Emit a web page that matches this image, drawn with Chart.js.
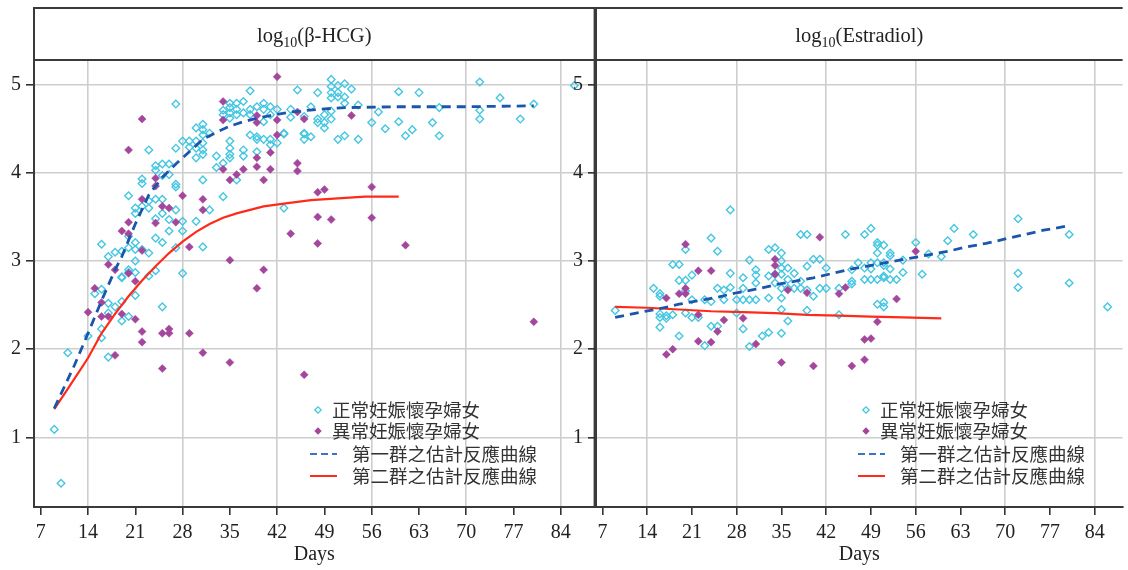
<!DOCTYPE html>
<html>
<head>
<meta charset="utf-8">
<script src="https://cdn.jsdelivr.net/npm/chart.js@4.4.0/dist/chart.umd.min.js"></script>
<style>
  body { margin: 0; background: #fff; }
  #wrap { position: relative; width: 1128px; height: 570px; }
  canvas { position: absolute; top: 0; }
  #hcgChart { left: 0; }
  #e2Chart { left: 560px; }
</style>
</head>
<body>
<div id="wrap">
  <canvas id="hcgChart" width="600" height="570"></canvas>
  <canvas id="e2Chart" width="568" height="570"></canvas>
</div>
<script>
// tick values
const xTicks = [7, 14, 21, 28, 35, 42, 49, 56, 63, 70, 77, 84];
const yTicks = [1, 2, 3, 4, 5];
const legendLabels = ["正常妊娠懷孕婦女", "異常妊娠懷孕婦女", "第一群之估計反應曲線", "第二群之估計反應曲線"];

// [day, value] pairs
const hcgNormal = [
  [9,1.09],[10,0.48],[11,1.96],[14,2.15],[15,2.63],[16,2.68],[16,2.23],[16,2.13],[16,3.19],[17,2.52],[17,2.41],[17,1.91],[17,3.05],
  [18,2.48],[18,3.10],[19,2.82],[19,2.54],[19,2.32],[19,3.11],[19,2.81],[20,2.90],[20,2.37],[20,3.15],[20,3.28],[20,3.74],[20,2.87],
  [21,2.61],[21,3.13],[21,3.00],[21,3.21],[21,3.60],[21,3.54],[21,2.87],[22,3.62],[22,3.13],[22,3.93],[22,3.88],[23,2.83],[23,3.68],
  [23,3.60],[23,3.09],[23,4.26],[24,2.89],[24,3.70],[24,3.48],[24,3.26],[24,4.08],[24,4.03],[25,2.48],[25,3.70],[25,3.54],[25,3.21],
  [25,4.10],[25,3.97],[26,3.47],[26,3.34],[26,4.10],[26,3.98],[27,3.58],[27,3.15],[27,3.87],[27,3.84],[27,4.28],[27,4.78],[28,3.45],
  [28,3.34],[28,2.86],[28,4.36],[29,4.36],[29,4.29],[30,3.45],[30,4.17],[30,4.28],[30,4.36],[30,4.51],[31,3.16],[31,4.55],[31,4.49],
  [31,4.43],[31,4.34],[31,4.26],[31,4.21],[31,3.92],[32,4.45],[32,3.58],[33,4.19],[33,4.06],[34,4.11],[34,3.73],[34,4.71],[34,4.66],
  [35,4.36],[35,4.28],[35,4.21],[35,4.17],[35,4.79],[35,4.74],[35,4.68],[35,4.62],[36,3.92],[36,4.79],[36,4.72],[36,4.66],[37,4.26],
  [37,4.19],[37,4.81],[37,4.68],[38,4.43],[38,4.72],[38,4.66],[38,4.93],[39,4.41],[39,4.38],[39,4.24],[39,4.75],[40,4.38],[40,4.79],
  [40,4.72],[40,4.58],[41,4.38],[41,4.32],[41,4.75],[41,4.66],[42,4.34],[42,4.72],[43,4.44],[43,3.60],[43,4.45],[44,4.72],[44,4.63],
  [45,4.94],[46,4.44],[46,4.38],[46,4.64],[46,4.45],[47,4.75],[47,4.41],[48,4.91],[48,4.61],[48,4.57],[49,4.66],[49,4.57],[49,4.51],
  [50,5.06],[50,4.98],[50,4.91],[50,4.85],[50,4.70],[50,4.61],[51,4.99],[51,4.91],[51,4.86],[51,4.38],[52,5.01],[52,4.86],[52,4.79],
  [52,4.42],[53,4.95],[54,4.77],[54,4.38],[56,4.57],[57,4.69],[58,4.50],[60,4.92],[60,4.58],[61,4.42],[62,4.49],[63,4.91],[65,4.57],
  [66,4.74],[66,4.42],[72,5.03],[72,4.71],[72,4.61],[75,4.85],[78,4.61],[80,4.78],[86,4.99]
];
const hcgAbnormal = [
  [14,2.42],[15,2.69],[16,2.53],[16,2.37],[17,2.37],[17,2.96],[18,1.93],[18,2.90],[19,2.40],[19,3.34],[20,2.86],[20,4.26],[20,3.44],
  [20,3.31],[21,2.77],[21,2.34],[22,2.20],[22,2.08],[22,4.61],[22,3.70],[22,3.12],[24,3.94],[24,3.85],[24,3.43],[25,1.78],[25,2.18],
  [25,3.62],[26,2.23],[26,2.18],[26,3.60],[27,3.44],[28,3.74],[29,2.18],[29,3.16],[31,1.96],[31,3.70],[31,3.58],[34,4.81],[34,4.60],
  [34,4.04],[35,3.92],[35,3.01],[35,1.85],[36,3.98],[37,4.04],[39,4.65],[39,4.57],[39,4.17],[39,4.07],[39,2.69],[40,3.92],[40,2.90],
  [41,4.23],[41,4.04],[42,5.09],[42,4.60],[42,4.43],[44,3.31],[45,4.11],[45,4.02],[45,4.69],[46,4.61],[46,1.71],[48,3.78],[48,3.50],
  [48,3.20],[49,3.81],[50,3.47],[53,4.65],[56,3.84],[56,3.49],[61,3.18],[80,2.31]
];
const hcgFit1 = [
  [9,1.33],[12,1.82],[14,2.18],[16,2.55],[18,2.90],[19,3.05],[21,3.42],[23,3.75],[25,3.95],[27,4.10],[28,4.17],[31,4.38],[33,4.46],
  [35,4.53],[37,4.58],[39,4.62],[41,4.65],[44,4.69],[48,4.72],[52,4.74],[60,4.75],[70,4.75],[80,4.76]
];
const hcgFit2 = [
  [9,1.32],[11,1.55],[14,1.90],[16,2.18],[18,2.40],[20,2.60],[22,2.78],[24,2.94],[26,3.09],[28,3.22],[30,3.33],[32,3.42],[34,3.49],
  [36,3.54],[38,3.58],[40,3.62],[43,3.65],[47,3.69],[51,3.71],[55,3.73],[60,3.73]
];

const e2Normal = [
  [9,2.44],[15,2.69],[16,2.63],[16,2.60],[16,2.40],[16,2.36],[16,2.25],[17,2.38],[17,2.35],[18,2.39],[18,2.96],[19,2.96],[19,2.78],
  [19,2.15],[20,3.13],[20,2.78],[20,2.66],[20,2.41],[21,2.84],[21,2.36],[21,2.56],[22,2.36],[23,2.56],[23,2.04],[24,3.26],[24,2.54],
  [24,2.26],[25,3.11],[25,2.69],[25,2.26],[26,2.67],[26,2.56],[27,2.86],[27,2.70],[27,3.58],[28,2.56],[28,2.41],[29,2.81],[29,2.69],
  [29,2.56],[29,2.23],[30,3.01],[30,2.56],[30,2.03],[31,2.90],[31,2.84],[31,2.75],[31,2.56],[32,2.15],[33,3.13],[33,2.83],[33,2.58],
  [33,2.19],[34,3.15],[34,2.85],[34,2.75],[35,3.09],[35,3.00],[35,2.92],[35,2.85],[35,2.69],[35,2.58],[35,2.45],[35,2.18],[36,2.92],
  [36,2.79],[36,2.69],[36,2.32],[37,2.86],[37,2.69],[38,3.30],[38,2.77],[38,2.69],[39,3.30],[39,2.94],[39,2.67],[39,2.44],[40,3.02],
  [40,2.60],[41,3.02],[41,2.69],[42,2.69],[42,2.92],[44,2.69],[44,2.39],[45,3.30],[46,2.90],[46,2.77],[46,2.74],[47,2.98],[48,3.30],
  [48,2.92],[48,2.79],[49,3.37],[49,2.98],[49,2.91],[49,2.79],[50,3.21],[50,3.18],[50,3.09],[50,2.98],[50,2.79],[50,2.51],[51,3.18],
  [51,2.98],[51,2.95],[51,2.83],[51,2.81],[51,2.53],[51,2.48],[52,3.09],[52,3.06],[52,2.91],[52,2.79],[53,2.79],[54,3.01],[54,2.87],
  [56,3.21],[57,2.85],[58,3.08],[60,3.05],[61,3.23],[62,3.37],[65,3.30],[72,3.48],[72,2.86],[72,2.70],[80,3.30],[80,2.75],[86,2.48]
];
const e2Abnormal = [
  [17,2.58],[17,1.94],[18,2.00],[19,2.63],[20,3.19],[20,2.69],[20,2.63],[22,2.89],[22,2.39],[22,2.09],[24,2.89],[24,2.08],[25,2.20],
  [26,2.33],[29,2.35],[31,2.06],[34,3.02],[34,2.95],[34,2.85],[35,1.85],[36,2.67],[39,2.64],[40,1.81],[41,3.27],[44,2.63],[45,2.70],
  [46,1.81],[48,2.11],[48,1.88],[49,2.12],[50,2.31],[53,2.57],[56,3.11]
];
const e2Fit1 = [
  [9,2.36],[13,2.42],[16,2.46],[19,2.51],[22,2.55],[25,2.59],[28,2.64],[31,2.68],[34,2.73],[37,2.77],[40,2.81],[43,2.86],[46,2.91],
  [49,2.95],[52,2.99],[55,3.03],[58,3.07],[61,3.11],[64,3.16],[67,3.20],[70,3.25],[73,3.30],[76,3.35],[80,3.40]
];
const e2Fit2 = [
  [9,2.48],[14,2.47],[19,2.45],[24,2.43],[29,2.42],[34,2.41],[39,2.39],[44,2.38],[49,2.37],[54,2.36],[60,2.35]
];

const toXY = (arr) => arr.map((p) => ({ x: p[0], y: p[1] }));

const cyan = "#45c6e2";
const purple = "#a3469c";
const blue = "#1b56ad";
const red = "#ff2a1a";
const serif = "'Liberation Serif', 'Times New Roman', serif";
const cjk = "'Noto Sans CJK TC', 'Noto Sans CJK SC', sans-serif";

function drawDiamond(ctx, x, y, r, fill) {
  ctx.beginPath();
  ctx.moveTo(x - r, y);
  ctx.lineTo(x, y - r);
  ctx.lineTo(x + r, y);
  ctx.lineTo(x, y + r);
  ctx.closePath();
  if (fill) {
    ctx.fillStyle = purple;
    ctx.fill();
  } else {
    ctx.strokeStyle = cyan;
    ctx.lineWidth = 1.3;
    ctx.stroke();
  }
}

// header strip, frame, panel title and legend
const panelDecor = {
  id: "panelDecor",
  afterDraw(chart, args, opts) {
    const { ctx, chartArea: a } = chart;
    ctx.save();
    ctx.strokeStyle = "#3a3a3a";
    ctx.lineWidth = 2;
    ctx.beginPath();
    ctx.moveTo(a.left, 8);
    ctx.lineTo(a.right, 8);
    ctx.moveTo(a.left, a.top);
    ctx.lineTo(a.right, a.top);
    ctx.moveTo(a.left, 7);
    ctx.lineTo(a.left, a.bottom);
    if (opts.closeRight) {
      ctx.moveTo(a.right, 7);
      ctx.lineTo(a.right, a.bottom);
    }
    ctx.stroke();

    // title like log10(...)
    const big = "20.5px " + serif;
    const small = "14px " + serif;
    ctx.fillStyle = "#222";
    ctx.textBaseline = "alphabetic";
    ctx.textAlign = "left";
    ctx.font = big;
    const w1 = ctx.measureText("log").width;
    const w3 = ctx.measureText(opts.title).width;
    ctx.font = small;
    const w2 = ctx.measureText("10").width;
    let x = (a.left + a.right) / 2 - (w1 + w2 + w3) / 2;
    const y = 42;
    ctx.font = big;
    ctx.fillText("log", x, y);
    x += w1;
    ctx.font = small;
    ctx.fillText("10", x, y + 5);
    x += w2;
    ctx.font = big;
    ctx.fillText(opts.title, x, y);

    // legend
    const mx = a.left + opts.legendX;
    const rows = [410, 431, 454, 476];
    drawDiamond(ctx, mx, rows[0], 3.2, false);
    drawDiamond(ctx, mx, rows[1], 3.7, true);
    ctx.lineWidth = 2;
    ctx.strokeStyle = "#3d72cc";
    ctx.setLineDash([7, 4]);
    ctx.beginPath();
    ctx.moveTo(mx - 8, rows[2]);
    ctx.lineTo(mx + 19, rows[2]);
    ctx.stroke();
    ctx.setLineDash([]);
    ctx.strokeStyle = red;
    ctx.beginPath();
    ctx.moveTo(mx - 8, rows[3]);
    ctx.lineTo(mx + 19, rows[3]);
    ctx.stroke();

    ctx.font = "18.5px " + cjk;
    ctx.fillStyle = "#333";
    ctx.textBaseline = "middle";
    ctx.fillText(legendLabels[0], mx + 14, rows[0]);
    ctx.fillText(legendLabels[1], mx + 14, rows[1]);
    ctx.fillText(legendLabels[2], mx + 34, rows[2]);
    ctx.fillText(legendLabels[3], mx + 34, rows[3]);
    ctx.restore();
  },
};

function buildChart(canvasId, cfg) {
  const ctx = document.getElementById(canvasId).getContext("2d");
  return new Chart(ctx, {
    type: "scatter",
    data: {
      datasets: [
        {
          label: legendLabels[2],
          data: toXY(cfg.fit1),
          showLine: true,
          borderColor: blue,
          borderWidth: 2.8,
          borderDash: [9, 6],
          pointRadius: 0,
          tension: 0,
        },
        {
          label: legendLabels[3],
          data: toXY(cfg.fit2),
          showLine: true,
          borderColor: red,
          borderWidth: 2.2,
          pointRadius: 0,
          tension: 0,
        },
        {
          label: legendLabels[1],
          data: toXY(cfg.abnormal),
          pointStyle: "rectRot",
          pointRadius: 4,
          backgroundColor: purple,
          borderColor: purple,
          borderWidth: 0.5,
        },
        {
          label: legendLabels[0],
          data: toXY(cfg.normal),
          pointStyle: "rectRot",
          pointRadius: 3.8,
          backgroundColor: "rgba(0,0,0,0)",
          borderColor: cyan,
          borderWidth: 1.4,
        },
      ],
    },
    options: {
      responsive: false,
      animation: false,
      devicePixelRatio: 1,
      layout: {
        padding: { top: 60, right: cfg.padRight, left: 0, bottom: 0 },
      },
      plugins: {
        legend: { display: false },
        tooltip: { enabled: false },
        panelDecor: {
          title: cfg.title,
          legendX: cfg.legendX,
          closeRight: cfg.closeRight,
        },
      },
      scales: {
        x: {
          type: "linear",
          min: 6,
          max: cfg.xMax,
          afterBuildTicks: (scale) => {
            scale.ticks = xTicks.map((v) => ({ value: v }));
          },
          afterFit: (scale) => {
            scale.height = 63;
          },
          ticks: {
            font: { size: 20, family: serif },
            color: "#222",
            padding: 6,
            maxRotation: 0,
            autoSkip: false,
          },
          grid: {
            color: (c) => (c.tick && c.tick.value % 14 === 0 ? "#cdcdcd" : "rgba(0,0,0,0)"),
            lineWidth: 1.6,
            tickColor: "#333",
            tickLength: 8,
          },
          border: { display: true, color: "#3a3a3a", width: 2 },
          title: {
            display: true,
            text: "Days",
            font: { size: 20, family: serif },
            color: "#222",
            padding: { top: 0, bottom: 3 },
          },
        },
        y: {
          type: "linear",
          min: 0.21,
          max: 5.28,
          afterBuildTicks: (scale) => {
            scale.ticks = yTicks.map((v) => ({ value: v }));
          },
          afterFit: (scale) => {
            scale.width = cfg.yWidth;
          },
          ticks: {
            font: { size: 20, family: serif },
            color: "#222",
            padding: 5,
          },
          grid: {
            color: "#cdcdcd",
            lineWidth: 1.6,
            tickColor: "#333",
            tickLength: 8,
          },
          border: { display: true, color: "#3a3a3a", width: 2 },
        },
      },
    },
    plugins: [panelDecor],
  });
}

buildChart("hcgChart", {
  normal: hcgNormal,
  abnormal: hcgAbnormal,
  fit1: hcgFit1,
  fit2: hcgFit2,
  title: "(β-HCG)",
  xMax: 89,
  padRight: 4,
  yWidth: 34,
  legendX: 284,
  closeRight: true,
});

buildChart("e2Chart", {
  normal: e2Normal,
  abnormal: e2Abnormal,
  fit1: e2Fit1,
  fit2: e2Fit2,
  title: "(Estradiol)",
  xMax: 88.35,
  padRight: 0,
  yWidth: 36,
  legendX: 270,
  closeRight: false,
});
</script>
</body>
</html>
